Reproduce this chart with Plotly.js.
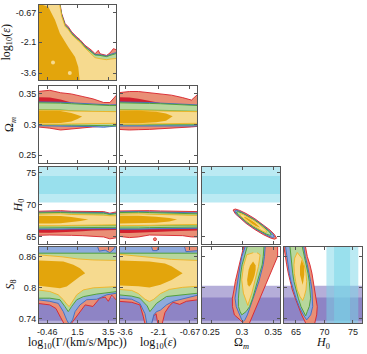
<!DOCTYPE html>
<html>
<head>
<meta charset="utf-8">
<script src="https://cdn.plot.ly/plotly-3.0.1.min.js"></script>
<style>
  html, body { margin: 0; padding: 0; background: #fff; }
  #corner { width: 367px; height: 354px; }
</style>
</head>
<body>
<div id="corner"></div>
<script>
/* corner plot: log10Γ, log10ε, Ωm, H0, S8 — four data combinations + H0 / S8 priors */

// ---- tick labels -------------------------------------------------------
const colTicks = [[-0.46, 1.5, 3.5], [-3.6, -2.1, -0.67], [0.25, 0.3, 0.35], [65, 70, 75]];
const colTickText = [['-0.46', '1.5', '3.5'], ['-3.6', '-2.1', '-0.67'], ['0.25', '0.3', '0.35'], ['65', '70', '75']];
const rowTicks = [[-0.67, -2.1, -3.6], [0.35, 0.3, 0.25], [75, 70, 65], [0.86, 0.8, 0.74]];
const rowTickText = [['-0.67', '-2.1', '-3.6'], ['0.35', '0.3', '0.25'], ['75', '70', '65'], ['0.86', '0.8', '0.74']];

// ---- external priors (band edges) -------------------------------------
const h0Band68 = [71.7, 74.5];
const h0Band95 = [70.35, 75.95];
const s8Band68 = [0.7365, 0.7815];
const s8Band95 = [0.714, 0.804];

// ---- log10ε vs log10Γ (upper edges; regions run down past the axis) ----
const epsGamFloorX = [-1.1, 4.1];
const epsGamFloor = [-4.1, -4.1];
const epsGamRedX = [-1.1, 0.36, 0.47, 0.58, 0.69, 0.9, 1.12, 1.45, 1.66, 1.99, 2.42, 2.64, 2.85, 2.96, 3.39, 3.61, 3.83, 4.1];
const epsGamRed = [-0.2, -0.2, -0.69, -0.93, -1.18, -1.34, -1.59, -1.84, -1.97, -2.25, -2.49, -2.66, -2.49, -2.66, -2.74, -2.62, -2.41, -2.49];
const epsGamX = [-1.1, 0.33, 0.47, 0.58, 0.69, 0.9, 1.12, 1.45, 1.66, 1.99, 2.42, 2.64, 2.96, 3.39, 3.61, 4.1];
const epsGamBlue = [-0.2, -0.2, -0.74, -0.99, -1.24, -1.40, -1.64, -1.89, -2.02, -2.30, -2.53, -2.69, -2.71, -2.77, -2.70, -2.58];
const epsGamGreen = [-0.2, -0.2, -0.78, -1.03, -1.28, -1.44, -1.68, -1.92, -2.05, -2.33, -2.57, -2.72, -2.74, -2.80, -2.74, -2.63];
const epsGamYellow = [-0.2, -0.2, -0.82, -1.07, -1.32, -1.48, -1.72, -1.96, -2.09, -2.38, -2.68, -2.85, -2.90, -2.95, -2.92, -2.88];
const epsGamGoldX = [-1.1, -0.4, 0.04, 0.36, 0.9, 1.34, 1.55, 1.66];
const epsGamGold = [-0.2, -0.36, -1.01, -1.67, -2.33, -2.82, -3.31, -4.1];
const epsGamGoldFloorX = [-1.1, 1.66];
const epsGamSpotX = [-0.09, 1.0];
const epsGamSpotY = [-3.08, -3.6];

// ---- Ωm vs log10Γ --------------------------------------------------------
const omGamX = [-1.1, -0.3, 0.4, 1.1, 1.8, 2.5, 3.2, 3.6, 4.1];
const omGamRed2Hi = [0.354, 0.356, 0.352, 0.350, 0.346, 0.342, 0.336, 0.336, 0.350];
const omGamRed2Lo = [0.296, 0.294, 0.291, 0.292, 0.294, 0.296, 0.297, 0.299, 0.299];
const omGamRed1Hi = [0.3445, 0.344, 0.341, 0.336, 0.333, 0.331, 0.330, 0.330, 0.330];
const omGamRed1Lo = [0.301, 0.301, 0.301, 0.301, 0.301, 0.301, 0.301, 0.301, 0.301];
const omGamBlue2Hi = [0.337, 0.337, 0.3365, 0.3355, 0.3345, 0.3335, 0.332, 0.332, 0.3325];
const omGamBlue2Lo = [0.298, 0.298, 0.298, 0.2975, 0.297, 0.2965, 0.2955, 0.2965, 0.2975];
const omGamGreen2Hi = [0.3355, 0.3355, 0.335, 0.334, 0.333, 0.332, 0.331, 0.331, 0.331];
const omGamGreen2Lo = [0.2995, 0.2995, 0.2995, 0.299, 0.299, 0.2985, 0.298, 0.298, 0.298];
const omGamGreen1Hi = [0.3255, 0.3255, 0.325, 0.3235, 0.3225, 0.322, 0.322, 0.322, 0.322];
const omGamGreen1Lo = [0.304, 0.304, 0.304, 0.304, 0.304, 0.304, 0.304, 0.304, 0.304];
const omGamYellow2Hi = [0.3235, 0.3235, 0.323, 0.322, 0.3215, 0.321, 0.321, 0.321, 0.321];
const omGamYellow2Lo = [0.3005, 0.3005, 0.3005, 0.301, 0.301, 0.301, 0.302, 0.302, 0.302];
const omGamGoldX = [-1.1, -0.3, 0.4, 1.1, 1.5, 1.8];
const omGamGoldHi = [0.3225, 0.3225, 0.322, 0.319, 0.316, 0.313];
const omGamGoldLo = [0.302, 0.302, 0.3025, 0.305, 0.309, 0.313];

// ---- Ωm vs log10ε --------------------------------------------------------
const omEpsX = [-3.9, -3.4, -3.0, -2.5, -2.0, -1.5, -1.0, -0.6, -0.3];
const omEpsRed2Hi = [0.352, 0.354, 0.354, 0.352, 0.350, 0.348, 0.344, 0.340, 0.350];
const omEpsRed2Lo = [0.292, 0.291, 0.2915, 0.292, 0.293, 0.2935, 0.295, 0.296, 0.297];
const omEpsRed1Hi = [0.3445, 0.344, 0.342, 0.338, 0.335, 0.332, 0.330, 0.330, 0.330];
const omEpsRed1Lo = [0.301, 0.301, 0.301, 0.301, 0.301, 0.301, 0.301, 0.301, 0.301];
const omEpsBlue2Hi = [0.337, 0.337, 0.337, 0.336, 0.335, 0.334, 0.333, 0.332, 0.332];
const omEpsBlue2Lo = [0.2975, 0.2975, 0.2975, 0.298, 0.298, 0.298, 0.298, 0.2975, 0.2975];
const omEpsGreen2Hi = [0.3355, 0.3355, 0.335, 0.3345, 0.334, 0.333, 0.332, 0.331, 0.331];
const omEpsGreen2Lo = [0.2995, 0.2995, 0.2995, 0.2995, 0.2995, 0.2995, 0.2995, 0.2995, 0.2995];
const omEpsGreen1Hi = [0.3255, 0.3255, 0.325, 0.3245, 0.324, 0.3235, 0.323, 0.3225, 0.3225];
const omEpsGreen1Lo = [0.304, 0.304, 0.304, 0.304, 0.304, 0.304, 0.304, 0.304, 0.304];
const omEpsYellow2Hi = [0.3235, 0.3235, 0.323, 0.3225, 0.322, 0.3215, 0.321, 0.321, 0.321];
const omEpsYellow2Lo = [0.3005, 0.3005, 0.3005, 0.301, 0.301, 0.3015, 0.302, 0.302, 0.302];
const omEpsGoldX = [-3.9, -3.0, -2.2, -1.75, -1.45];
const omEpsGoldHi = [0.3225, 0.3225, 0.321, 0.318, 0.3135];
const omEpsGoldLo = [0.302, 0.302, 0.3035, 0.306, 0.3135];

// ---- H0 vs log10Γ --------------------------------------------------------
const h0GamX = [-1.1, -0.3, 0.4, 1.1, 1.8, 2.5, 3.2, 3.6, 4.1];
const h0GamRed2Hi = [69.0, 69.05, 69.1, 69.0, 68.95, 68.9, 68.95, 68.7, 68.95];
const h0GamRed2Lo = [65.25, 65.3, 65.3, 65.25, 65.2, 65.15, 65.0, 64.7, 64.9];
const h0GamRed1Hi = [68.4, 68.4, 68.4, 68.4, 68.4, 68.4, 68.4, 68.4, 68.4];
const h0GamRed1Lo = [65.65, 65.65, 65.7, 65.8, 65.9, 66.0, 66.05, 66.1, 66.1];
const h0GamBlue2Hi = [68.85, 68.9, 68.9, 68.85, 68.8, 68.75, 68.8, 68.6, 68.75];
const h0GamBlue2Lo = [66.2, 66.2, 66.2, 66.25, 66.3, 66.3, 66.35, 66.3, 66.3];
const h0GamGreen2Hi = [68.75, 68.8, 68.8, 68.75, 68.7, 68.65, 68.7, 68.5, 68.65];
const h0GamGreen2Lo = [66.4, 66.4, 66.4, 66.45, 66.5, 66.5, 66.5, 66.5, 66.5];
const h0GamGreen1Hi = [68.6, 68.6, 68.6, 68.55, 68.55, 68.5, 68.5, 68.4, 68.4];
const h0GamGreen1Lo = [66.62, 66.62, 66.62, 66.66, 66.7, 66.72, 66.72, 66.72, 66.72];
const h0GamYellow2Hi = [68.55, 68.6, 68.6, 68.5, 68.5, 68.4, 68.4, 68.3, 68.3];
const h0GamYellow2Lo = [66.75, 66.75, 66.75, 66.8, 66.85, 66.9, 66.9, 66.9, 66.9];
const h0GamGoldX = [-1.1, -0.3, 0.4, 1.1, 1.7, 2.2];
const h0GamGoldHi = [68.3, 68.3, 68.25, 68.1, 67.9, 67.7];
const h0GamGoldLo = [67.1, 67.1, 67.15, 67.3, 67.5, 67.7];

// ---- H0 vs log10ε --------------------------------------------------------
const h0EpsX = [-3.9, -3.4, -3.0, -2.5, -2.0, -1.5, -1.0, -0.6, -0.3];
const h0EpsRed2Hi = [69.05, 69.1, 69.15, 69.1, 69.05, 69.0, 69.0, 68.95, 68.95];
const h0EpsRed2Lo = [65.1, 64.9, 65.0, 65.3, 65.3, 65.25, 65.2, 65.0, 65.0];
const h0EpsRed1Hi = [68.4, 68.4, 68.4, 68.4, 68.4, 68.4, 68.4, 68.4, 68.4];
const h0EpsRed1Lo = [65.6, 65.6, 65.65, 65.7, 65.8, 65.9, 66.0, 66.0, 66.0];
const h0EpsBlue2Hi = [68.9, 68.95, 68.95, 68.9, 68.85, 68.8, 68.8, 68.75, 68.75];
const h0EpsBlue2Lo = [66.2, 66.2, 66.2, 66.25, 66.3, 66.3, 66.35, 66.35, 66.35];
const h0EpsGreen2Hi = [68.8, 68.85, 68.85, 68.8, 68.75, 68.7, 68.65, 68.6, 68.6];
const h0EpsGreen2Lo = [66.4, 66.4, 66.4, 66.45, 66.5, 66.5, 66.55, 66.55, 66.55];
const h0EpsGreen1Hi = [68.6, 68.6, 68.6, 68.55, 68.55, 68.5, 68.5, 68.45, 68.45];
const h0EpsGreen1Lo = [66.62, 66.62, 66.62, 66.66, 66.7, 66.72, 66.75, 66.75, 66.75];
const h0EpsYellow2Hi = [68.55, 68.6, 68.6, 68.55, 68.5, 68.45, 68.4, 68.35, 68.35];
const h0EpsYellow2Lo = [66.75, 66.75, 66.75, 66.8, 66.85, 66.9, 66.9, 66.95, 66.95];
const h0EpsGoldX = [-3.9, -3.0, -2.2, -1.6, -1.25];
const h0EpsGoldHi = [68.3, 68.3, 68.15, 67.95, 67.7];
const h0EpsGoldLo = [67.1, 67.1, 67.2, 67.4, 67.7];
const h0EpsSpotX = [-2.25];
const h0EpsSpotY = [64.65];

// ---- H0 vs Ωm ------------------------------------------------------------
const h0OmRed2X = [0.2855, 0.2890, 0.2960, 0.3065, 0.3205, 0.3345, 0.3450, 0.3520, 0.3555];
const h0OmRed2Hi = [69.2, 69.35, 69.14, 68.65, 67.84, 66.89, 66.06, 65.39, 64.8];
const h0OmRed2Lo = [69.2, 68.61, 67.94, 67.11, 66.16, 65.35, 64.86, 64.65, 64.8];
const h0OmBlue2X = [0.288, 0.2912, 0.2976, 0.3072, 0.320, 0.3328, 0.3424, 0.3488, 0.352];
const h0OmBlue2Hi = [69.04, 69.14, 68.93, 68.46, 67.71, 66.84, 66.11, 65.52, 65.02];
const h0OmBlue2Lo = [69.04, 68.54, 67.95, 67.22, 66.35, 65.60, 65.13, 64.92, 65.02];
const h0OmGreen2X = [0.291, 0.2938, 0.2994, 0.3078, 0.319, 0.3302, 0.3386, 0.3442, 0.347];
const h0OmGreen2Hi = [68.86, 68.93, 68.74, 68.33, 67.68, 66.93, 66.28, 65.77, 65.34];
const h0OmGreen2Lo = [68.86, 68.43, 67.92, 67.27, 66.52, 65.87, 65.46, 65.27, 65.34];
const h0OmYellow2X = [0.296, 0.2982, 0.3026, 0.3092, 0.318, 0.3268, 0.3334, 0.3378, 0.340];
const h0OmYellow2Hi = [68.55, 68.61, 68.45, 68.12, 67.61, 67.02, 66.51, 66.11, 65.79];
const h0OmYellow2Lo = [68.55, 68.23, 67.83, 67.32, 66.73, 66.22, 65.89, 65.73, 65.79];
const h0OmGoldX = [0.303, 0.3043, 0.3069, 0.3108, 0.316, 0.3212, 0.3251, 0.3277, 0.329];
const h0OmGoldHi = [68.12, 68.14, 68.04, 67.85, 67.54, 67.19, 66.90, 66.66, 66.48];
const h0OmGoldLo = [68.12, 67.94, 67.70, 67.41, 67.06, 66.75, 66.56, 66.46, 66.48];

// ---- S8 vs log10Γ --------------------------------------------------------
const s8GamTopX = [-1.1, 4.1];
const s8GamRed2Hi = [0.885, 0.885];
const s8GamRed2LoX = [-1.1, -0.3, 0.1, 0.4, 0.6, 0.85, 1.1, 1.45, 1.7, 2.0, 2.5, 2.95, 3.3, 3.5, 3.72, 4.1];
const s8GamRed2Lo = [0.770, 0.767, 0.760, 0.743, 0.732, 0.726, 0.731, 0.744, 0.755, 0.767, 0.764, 0.780, 0.782, 0.774, 0.786, 0.774];
const s8GamBlue2HiX = [-1.1, 2.75, 2.9, 3.3, 3.6, 3.8, 4.1];
const s8GamBlue2Hi = [0.885, 0.885, 0.871, 0.873, 0.868, 0.873, 0.885];
const s8GamBlue2LoX = [-1.1, -0.3, 0.25, 0.58, 0.8, 0.97, 1.18, 1.34, 1.66, 2.1, 2.75, 3.4, 4.1];
const s8GamBlue2Lo = [0.777, 0.774, 0.770, 0.754, 0.738, 0.729, 0.738, 0.754, 0.767, 0.777, 0.778, 0.7865, 0.790];
const s8GamGreen2Hi = [0.867, 0.867];
const s8GamGreen2LoX = [-1.1, -0.3, 0.36, 0.68, 0.9, 1.12, 1.45, 1.88, 2.75, 4.1];
const s8GamGreen2Lo = [0.780, 0.780, 0.777, 0.764, 0.754, 0.764, 0.777, 0.783, 0.788, 0.793];
const s8GamYellow2HiX = [-1.1, 0.5, 1.5, 2.5, 4.1];
const s8GamYellow2Hi = [0.864, 0.860, 0.856, 0.854, 0.853];
const s8GamYellow2LoX = [-1.1, -0.3, 0.25, 0.58, 0.84, 0.97, 1.12, 1.45, 1.88, 2.53, 4.1];
const s8GamYellow2Lo = [0.796, 0.793, 0.7865, 0.777, 0.767, 0.764, 0.770, 0.7865, 0.796, 0.800, 0.8025];
const s8GamGoldHiX = [-1.1, -0.3, 0.58, 1.23, 1.66, 2.0];
const s8GamGoldHi = [0.853, 0.852, 0.851, 0.8445, 0.838, 0.8284];
const s8GamGoldLoX = [-1.1, -0.3, 0.36, 0.8, 1.23, 1.66, 2.0];
const s8GamGoldLo = [0.8045, 0.8025, 0.7994, 0.8025, 0.8122, 0.822, 0.8284];

// ---- S8 vs log10ε --------------------------------------------------------
const s8EpsTopX = [-3.9, -0.3];
const s8EpsRed2Hi = [0.885, 0.885];
const s8EpsRed2LoX = [-3.9, -3.3, -2.93, -2.78, -2.68, -2.45, -2.33, -2.2, -2.1, -1.95, -1.8, -1.6, -1.43, -1.13, -0.83, -0.3];
const s8EpsRed2Lo = [0.774, 0.772, 0.767, 0.745, 0.726, 0.726, 0.745, 0.75, 0.726, 0.726, 0.752, 0.765, 0.772, 0.768, 0.774, 0.777];
const s8EpsBlue2HiX = [-3.9, -2.45, -2.35, -2.15, -2.05, -0.95, -0.85, -0.6, -0.3];
const s8EpsBlue2Hi = [0.885, 0.885, 0.872, 0.872, 0.885, 0.885, 0.870, 0.871, 0.872];
const s8EpsBlue2LoX = [-3.9, -3.3, -2.93, -2.7, -2.6, -2.42, -2.3, -2.18, -2.0, -1.73, -1.43, -1.13, -0.83, -0.3];
const s8EpsBlue2Lo = [0.780, 0.778, 0.770, 0.750, 0.727, 0.727, 0.748, 0.754, 0.757, 0.767, 0.774, 0.777, 0.780, 0.786];
const s8EpsGreen2Hi = [0.867, 0.867];
const s8EpsGreen2LoX = [-3.9, -3.3, -2.93, -2.6, -2.48, -2.3, -2.18, -1.73, -1.13, -0.3];
const s8EpsGreen2Lo = [0.7865, 0.784, 0.780, 0.765, 0.754, 0.764, 0.770, 0.7832, 0.786, 0.7897];
const s8EpsYellow2HiX = [-3.9, -2.5, -1.5, -0.3];
const s8EpsYellow2Hi = [0.865, 0.859, 0.855, 0.853];
const s8EpsYellow2LoX = [-3.9, -3.3, -3.0, -2.7, -2.5, -2.3, -2.0, -1.6, -1.0, -0.3];
const s8EpsYellow2Lo = [0.797, 0.795, 0.789, 0.778, 0.7735, 0.778, 0.789, 0.797, 0.801, 0.803];
const s8EpsGoldHiX = [-3.9, -2.5, -1.8, -1.5, -1.25, -1.0];
const s8EpsGoldHi = [0.853, 0.851, 0.847, 0.842, 0.835, 0.828];
const s8EpsGoldLoX = [-3.9, -3.0, -2.5, -2.0, -1.5, -1.0];
const s8EpsGoldLo = [0.8045, 0.803, 0.8005, 0.806, 0.815, 0.828];

// ---- S8 vs Ωm (left / right edges at each S8) ------------------------------
const s8OmRed2Y = [0.885, 0.8607, 0.8445, 0.8284, 0.8122, 0.7961, 0.780, 0.7639, 0.7477, 0.738, 0.7316, 0.725];
const s8OmRed2L = [0.3035, 0.2985, 0.2955, 0.2915, 0.289, 0.287, 0.2844, 0.2845, 0.2876, 0.2968, 0.302, 0.3035];
const s8OmRed2R = [0.3572, 0.3572, 0.3505, 0.3452, 0.3399, 0.3344, 0.329, 0.3237, 0.3172, 0.314, 0.3118, 0.311];
const s8OmBlue2Y = [0.885, 0.8607, 0.8445, 0.8284, 0.8122, 0.7961, 0.780, 0.7639, 0.7477, 0.738, 0.735];
const s8OmBlue2L = [0.3065, 0.2995, 0.297, 0.2952, 0.293, 0.2915, 0.2887, 0.2905, 0.2957, 0.2995, 0.302];
const s8OmBlue2R = [0.3375, 0.336, 0.334, 0.331, 0.327, 0.3225, 0.3185, 0.3135, 0.3085, 0.3045, 0.302];
const s8OmGreen2Y = [0.885, 0.8607, 0.8445, 0.8284, 0.8122, 0.7961, 0.780, 0.7639, 0.7542, 0.7477];
const s8OmGreen2L = [0.3095, 0.3032, 0.300, 0.2979, 0.296, 0.2952, 0.2941, 0.2941, 0.2968, 0.2995];
const s8OmGreen2R = [0.3355, 0.334, 0.3323, 0.329, 0.325, 0.321, 0.317, 0.3121, 0.3065, 0.2995];
const s8OmYellow2Y = [0.868, 0.864, 0.8413, 0.8155, 0.7897, 0.7703, 0.766];
const s8OmYellow2L = [0.318, 0.3076, 0.3021, 0.2995, 0.3021, 0.3076, 0.3092];
const s8OmYellow2R = [0.324, 0.329, 0.3263, 0.321, 0.3157, 0.3102, 0.3092];
const s8OmGoldY = [0.851, 0.843, 0.835, 0.825, 0.815, 0.807, 0.802];
const s8OmGoldL = [0.3177, 0.3129, 0.3105, 0.3089, 0.3081, 0.3089, 0.3113];
const s8OmGoldR = [0.3177, 0.3218, 0.3218, 0.3202, 0.3177, 0.3145, 0.3113];

// ---- S8 vs H0 --------------------------------------------------------------
const s8H0Red2Y = [0.885, 0.8607, 0.8445, 0.8284, 0.8122, 0.7961, 0.780, 0.7639, 0.7477, 0.7316, 0.725];
const s8H0Red2L = [62.8, 63.08, 63.37, 63.65, 63.95, 64.36, 64.88, 65.41, 66.0, 66.71, 66.88];
const s8H0Red2R = [66.58, 66.99, 67.46, 67.81, 68.04, 68.34, 68.51, 68.74, 68.64, 68.29, 68.16];
const s8H0Blue2Y = [0.885, 0.8607, 0.8445, 0.8284, 0.8122, 0.7961, 0.780, 0.7639, 0.7477, 0.738];
const s8H0Blue2L = [63.1, 63.37, 63.6, 63.83, 64.13, 64.53, 65.01, 65.58, 66.29, 66.88];
const s8H0Blue2R = [66.29, 66.64, 66.99, 67.34, 67.58, 67.81, 67.94, 67.94, 67.58, 66.88];
const s8H0Green2Y = [0.885, 0.8607, 0.8445, 0.8284, 0.8122, 0.7961, 0.780, 0.7639, 0.7542, 0.7458];
const s8H0Green2L = [63.9, 64.08, 64.25, 64.43, 64.65, 65.01, 65.41, 65.88, 66.29, 66.71];
const s8H0Green2R = [66.0, 66.41, 66.76, 67.11, 67.34, 67.51, 67.58, 67.34, 66.99, 66.71];
const s8H0Yellow2Y = [0.8683, 0.8575, 0.8445, 0.8284, 0.8122, 0.7961, 0.7832, 0.7755];
const s8H0Yellow2L = [65.23, 64.78, 64.65, 64.71, 64.95, 65.23, 65.71, 66.18];
const s8H0Yellow2R = [65.23, 66.0, 66.46, 66.76, 66.88, 66.76, 66.46, 66.18];
const s8H0GoldY = [0.8542, 0.8413, 0.8252, 0.8122, 0.8058];
const s8H0GoldL = [66.0, 65.71, 65.71, 66.06, 66.18];
const s8H0GoldR = [66.0, 66.46, 66.46, 66.29, 66.18];

// ---- styling ---------------------------------------------------------------
const RED2 = '#e98f76', RED1 = '#d3202f', RED_EDGE = '#d8232b';
const BLUE2 = '#8eaadc', BLUE_EDGE = '#3a6cc4';
const GREEN2 = '#b7d79c', GREEN1 = '#7fbb5a', GREEN_EDGE = '#4a9d2c';
const YEL2 = '#f6da8f', GOLD = '#e3a50c', YEL_EDGE = '#f0b323';
const CYAN = 'rgba(120,214,232,0.5)';
const PURPLE = 'rgba(100,86,175,0.48)';

const colPx = [[39, 116], [120, 197], [202, 280], [284, 362]];
const rowPx = [[5, 80], [86, 163], [167, 244], [247, 323]];
const colRange = [[-1, 4], [-3.83, -0.35], [0.2355, 0.361], [62.9, 76.6]];
const rowRange = [[-3.94, -0.28], [0.237, 0.363], [63.9, 75.9], [0.732, 0.879]];
const panels = [[0, 0], [1, 0], [1, 1], [2, 0], [2, 1], [2, 2], [3, 0], [3, 1], [3, 2], [3, 3]];
const W = 367, H = 354;

const traces = [];
const ax = n => (n === 1 ? '' : n);
const rev = a => a.slice().reverse();

function poly(n, xs, ys, fillc, edge) {
  traces.push({
    type: 'scatter', mode: 'lines', x: xs, y: ys, xaxis: 'x' + ax(n), yaxis: 'y' + ax(n),
    fill: 'toself', fillcolor: fillc,
    line: { color: edge || fillc, width: edge ? 0.9 : 0 },
    hoverinfo: 'skip', showlegend: false
  });
}
// horizontal band: upper edge (xt, hi) then lower edge (xb, lo)
function hb(n, xt, hi, xb, lo, f, e) { poly(n, xt.concat(rev(xb)), hi.concat(rev(lo)), f, e); }
// vertical band: left edge then right edge at each y
function vb(n, y, l, r, f, e) { poly(n, l.concat(rev(r)), y.concat(rev(y)), f, e); }
function spots(n, xs, ys, color, size, edge) {
  traces.push({ type: 'scatter', mode: 'markers', x: xs, y: ys, xaxis: 'x' + ax(n), yaxis: 'y' + ax(n),
    marker: { color: color, size: size, line: { color: edge || color, width: edge ? 0.8 : 0 } },
    hoverinfo: 'skip', showlegend: false });
}

// 1: log10ε vs log10Γ
hb(1, epsGamRedX, epsGamRed, epsGamFloorX, epsGamFloor, RED2, RED_EDGE);
hb(1, epsGamX, epsGamBlue, epsGamFloorX, epsGamFloor, BLUE2, BLUE_EDGE);
hb(1, epsGamX, epsGamGreen, epsGamFloorX, epsGamFloor, GREEN2, GREEN_EDGE);
hb(1, epsGamX, epsGamYellow, epsGamFloorX, epsGamFloor, YEL2, YEL_EDGE);
hb(1, epsGamGoldX, epsGamGold, epsGamGoldFloorX, epsGamFloor, GOLD);
spots(1, epsGamSpotX, epsGamSpotY, YEL2, 4);

// 2: Ωm vs log10Γ
hb(2, omGamX, omGamRed2Hi, omGamX, omGamRed2Lo, RED2, RED_EDGE);
hb(2, omGamX, omGamRed1Hi, omGamX, omGamRed1Lo, RED1);
hb(2, omGamX, omGamBlue2Hi, omGamX, omGamBlue2Lo, BLUE2, BLUE_EDGE);
hb(2, omGamX, omGamGreen2Hi, omGamX, omGamGreen2Lo, GREEN2, GREEN_EDGE);
hb(2, omGamX, omGamGreen1Hi, omGamX, omGamGreen1Lo, GREEN1);
hb(2, omGamX, omGamYellow2Hi, omGamX, omGamYellow2Lo, YEL2, YEL_EDGE);
hb(2, omGamGoldX, omGamGoldHi, omGamGoldX, omGamGoldLo, GOLD);

// 3: Ωm vs log10ε
hb(3, omEpsX, omEpsRed2Hi, omEpsX, omEpsRed2Lo, RED2, RED_EDGE);
hb(3, omEpsX, omEpsRed1Hi, omEpsX, omEpsRed1Lo, RED1);
hb(3, omEpsX, omEpsBlue2Hi, omEpsX, omEpsBlue2Lo, BLUE2, BLUE_EDGE);
hb(3, omEpsX, omEpsGreen2Hi, omEpsX, omEpsGreen2Lo, GREEN2, GREEN_EDGE);
hb(3, omEpsX, omEpsGreen1Hi, omEpsX, omEpsGreen1Lo, GREEN1);
hb(3, omEpsX, omEpsYellow2Hi, omEpsX, omEpsYellow2Lo, YEL2, YEL_EDGE);
hb(3, omEpsGoldX, omEpsGoldHi, omEpsGoldX, omEpsGoldLo, GOLD);

// 4: H0 vs log10Γ
hb(4, h0GamX, h0GamRed2Hi, h0GamX, h0GamRed2Lo, RED2, RED_EDGE);
hb(4, h0GamX, h0GamRed1Hi, h0GamX, h0GamRed1Lo, RED1);
hb(4, h0GamX, h0GamBlue2Hi, h0GamX, h0GamBlue2Lo, BLUE2, BLUE_EDGE);
hb(4, h0GamX, h0GamGreen2Hi, h0GamX, h0GamGreen2Lo, GREEN2, GREEN_EDGE);
hb(4, h0GamX, h0GamGreen1Hi, h0GamX, h0GamGreen1Lo, GREEN1);
hb(4, h0GamX, h0GamYellow2Hi, h0GamX, h0GamYellow2Lo, YEL2, YEL_EDGE);
hb(4, h0GamGoldX, h0GamGoldHi, h0GamGoldX, h0GamGoldLo, GOLD);

// 5: H0 vs log10ε
hb(5, h0EpsX, h0EpsRed2Hi, h0EpsX, h0EpsRed2Lo, RED2, RED_EDGE);
hb(5, h0EpsX, h0EpsRed1Hi, h0EpsX, h0EpsRed1Lo, RED1);
hb(5, h0EpsX, h0EpsBlue2Hi, h0EpsX, h0EpsBlue2Lo, BLUE2, BLUE_EDGE);
hb(5, h0EpsX, h0EpsGreen2Hi, h0EpsX, h0EpsGreen2Lo, GREEN2, GREEN_EDGE);
hb(5, h0EpsX, h0EpsGreen1Hi, h0EpsX, h0EpsGreen1Lo, GREEN1);
hb(5, h0EpsX, h0EpsYellow2Hi, h0EpsX, h0EpsYellow2Lo, YEL2, YEL_EDGE);
hb(5, h0EpsGoldX, h0EpsGoldHi, h0EpsGoldX, h0EpsGoldLo, GOLD);
spots(5, h0EpsSpotX, h0EpsSpotY, RED2, 3, RED_EDGE);

// 6: H0 vs Ωm
hb(6, h0OmRed2X, h0OmRed2Hi, h0OmRed2X, h0OmRed2Lo, RED2, RED_EDGE);
hb(6, h0OmBlue2X, h0OmBlue2Hi, h0OmBlue2X, h0OmBlue2Lo, BLUE2, BLUE_EDGE);
hb(6, h0OmGreen2X, h0OmGreen2Hi, h0OmGreen2X, h0OmGreen2Lo, GREEN2, GREEN_EDGE);
hb(6, h0OmYellow2X, h0OmYellow2Hi, h0OmYellow2X, h0OmYellow2Lo, YEL2, YEL_EDGE);
hb(6, h0OmGoldX, h0OmGoldHi, h0OmGoldX, h0OmGoldLo, GOLD);

// 7: S8 vs log10Γ
hb(7, s8GamTopX, s8GamRed2Hi, s8GamRed2LoX, s8GamRed2Lo, RED2, RED_EDGE);
hb(7, s8GamBlue2HiX, s8GamBlue2Hi, s8GamBlue2LoX, s8GamBlue2Lo, BLUE2, BLUE_EDGE);
hb(7, s8GamTopX, s8GamGreen2Hi, s8GamGreen2LoX, s8GamGreen2Lo, GREEN2, GREEN_EDGE);
hb(7, s8GamYellow2HiX, s8GamYellow2Hi, s8GamYellow2LoX, s8GamYellow2Lo, YEL2, YEL_EDGE);
hb(7, s8GamGoldHiX, s8GamGoldHi, s8GamGoldLoX, s8GamGoldLo, GOLD);

// 8: S8 vs log10ε
hb(8, s8EpsTopX, s8EpsRed2Hi, s8EpsRed2LoX, s8EpsRed2Lo, RED2, RED_EDGE);
hb(8, s8EpsBlue2HiX, s8EpsBlue2Hi, s8EpsBlue2LoX, s8EpsBlue2Lo, BLUE2, BLUE_EDGE);
hb(8, s8EpsTopX, s8EpsGreen2Hi, s8EpsGreen2LoX, s8EpsGreen2Lo, GREEN2, GREEN_EDGE);
hb(8, s8EpsYellow2HiX, s8EpsYellow2Hi, s8EpsYellow2LoX, s8EpsYellow2Lo, YEL2, YEL_EDGE);
hb(8, s8EpsGoldHiX, s8EpsGoldHi, s8EpsGoldLoX, s8EpsGoldLo, GOLD);

// 9: S8 vs Ωm
vb(9, s8OmRed2Y, s8OmRed2L, s8OmRed2R, RED2, RED_EDGE);
vb(9, s8OmBlue2Y, s8OmBlue2L, s8OmBlue2R, BLUE2, BLUE_EDGE);
vb(9, s8OmGreen2Y, s8OmGreen2L, s8OmGreen2R, GREEN2, GREEN_EDGE);
vb(9, s8OmYellow2Y, s8OmYellow2L, s8OmYellow2R, YEL2, YEL_EDGE);
vb(9, s8OmGoldY, s8OmGoldL, s8OmGoldR, GOLD);

// 10: S8 vs H0
vb(10, s8H0Red2Y, s8H0Red2L, s8H0Red2R, RED2, RED_EDGE);
vb(10, s8H0Blue2Y, s8H0Blue2L, s8H0Blue2R, BLUE2, BLUE_EDGE);
vb(10, s8H0Green2Y, s8H0Green2L, s8H0Green2R, GREEN2, GREEN_EDGE);
vb(10, s8H0Yellow2Y, s8H0Yellow2L, s8H0Yellow2R, YEL2, YEL_EDGE);
vb(10, s8H0GoldY, s8H0GoldL, s8H0GoldR, GOLD);

// ---- axes ------------------------------------------------------------------
const layout = {
  width: W, height: H, margin: { l: 0, r: 0, t: 0, b: 0 },
  paper_bgcolor: '#fff', plot_bgcolor: '#fff', showlegend: false,
  shapes: [], annotations: []
};
const tickFont = { family: 'Liberation Sans, Arial, sans-serif', size: 9, color: '#222' };
const base = {
  showline: true, mirror: 'allticks', linecolor: '#555', linewidth: 1,
  ticks: 'inside', ticklen: 3, tickwidth: 1, tickcolor: '#555',
  showgrid: false, zeroline: false, fixedrange: true, tickfont: tickFont, tickmode: 'array'
};
panels.forEach(([r, c], i) => {
  const n = i + 1;
  layout['xaxis' + ax(n)] = Object.assign({}, base, {
    anchor: 'y' + ax(n), domain: [colPx[c][0] / W, colPx[c][1] / W], range: colRange[c],
    tickvals: colTicks[c], ticktext: colTickText[c], showticklabels: r === 3
  });
  layout['yaxis' + ax(n)] = Object.assign({}, base, {
    anchor: 'x' + ax(n), domain: [1 - rowPx[r][1] / H, 1 - rowPx[r][0] / H], range: rowRange[r],
    tickvals: rowTicks[r], ticktext: rowTickText[r], showticklabels: c === 0
  });
  // prior bands: H0 (cyan) and S8 (purple)
  const bands = [];
  if (r === 2) bands.push(['y', h0Band95, CYAN], ['y', h0Band68, CYAN]);
  if (r === 3) bands.push(['y', s8Band95, PURPLE], ['y', s8Band68, PURPLE]);
  if (c === 3) bands.push(['x', h0Band95, CYAN], ['x', h0Band68, CYAN]);
  bands.forEach(([dir, b, col]) => {
    const s = { type: 'rect', layer: 'below', fillcolor: col, line: { width: 0 } };
    if (dir === 'y') Object.assign(s, { xref: 'x' + ax(n) + ' domain', x0: 0, x1: 1, yref: 'y' + ax(n), y0: b[0], y1: b[1] });
    else Object.assign(s, { yref: 'y' + ax(n) + ' domain', y0: 0, y1: 1, xref: 'x' + ax(n), x0: b[0], x1: b[1] });
    layout.shapes.push(s);
  });
});

// ---- axis titles -----------------------------------------------------------
const titleFont = { family: 'Liberation Serif, Times New Roman, serif', size: 12, color: '#111' };
const xTitles = ['log<sub>10</sub>(Γ/(km/s/Mpc))', 'log<sub>10</sub>(<i>ε</i>)', 'Ω<sub><i>m</i></sub>', '<i>H</i><sub>0</sub>'];
const yTitles = ['log<sub>10</sub>(<i>ε</i>)', 'Ω<sub><i>m</i></sub>', '<i>H</i><sub>0</sub>', '<i>S</i><sub>8</sub>'];
const xTitlePx = [77.5, 158, 241, 323];
const yTitlePx = [7, 10.5, 18, 10.5];
xTitles.forEach((t, c) => layout.annotations.push({
  text: t, xref: 'paper', yref: 'paper', x: xTitlePx[c] / W, y: 1 - 343 / H,
  xanchor: 'center', yanchor: 'middle', showarrow: false, font: titleFont
}));
yTitles.forEach((t, r) => layout.annotations.push({
  text: t, xref: 'paper', yref: 'paper', x: yTitlePx[r] / W, y: 1 - (rowPx[r][0] + rowPx[r][1]) / 2 / H,
  xanchor: 'center', yanchor: 'middle', textangle: -90, showarrow: false, font: titleFont
}));

Plotly.newPlot('corner', traces, layout, { staticPlot: true, displayModeBar: false });
</script>
</body>
</html>
